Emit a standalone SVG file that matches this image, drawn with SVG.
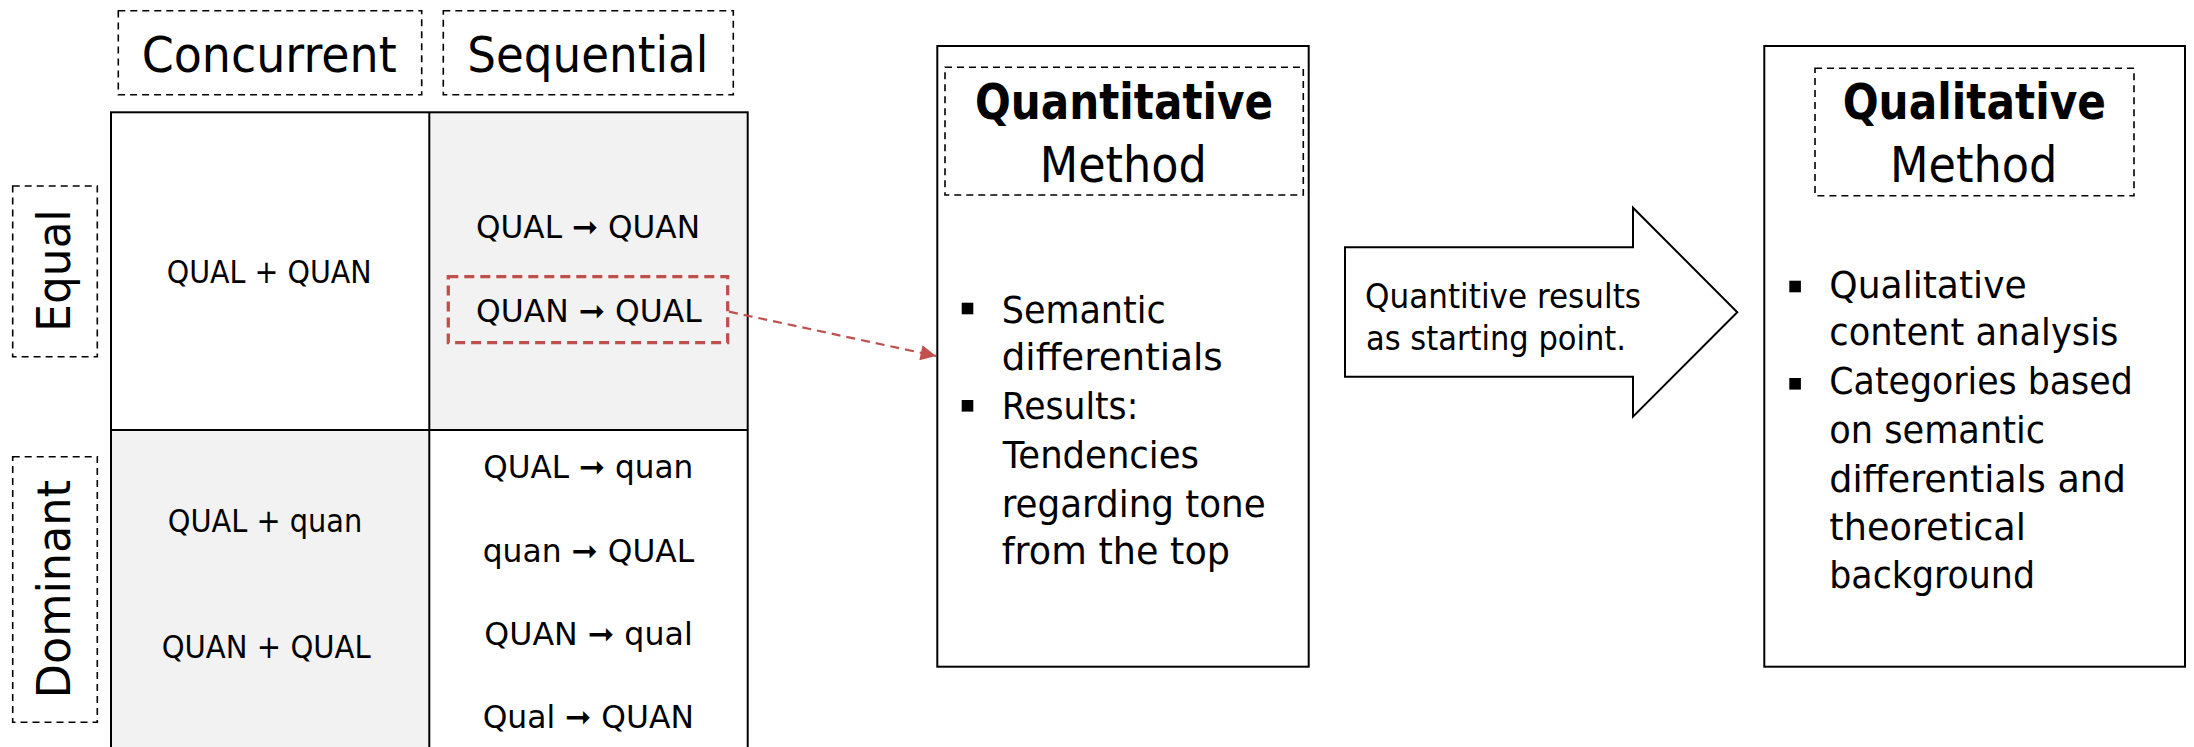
<svg xmlns="http://www.w3.org/2000/svg" width="2194" height="747" viewBox="0 0 2194 747">
<style>
text{font-family:"DejaVu Sans","Liberation Sans",sans-serif;fill:#000}
.hdr{font-size:50px;text-anchor:middle}
.side{font-size:46px;text-anchor:middle}
.cell{font-size:32px;text-anchor:middle}
.ttl{font-size:50px;font-weight:bold;text-anchor:middle}
.mth{font-size:50px;text-anchor:middle}
.bul{font-size:38px}
.arw{font-size:34px}
.dash{fill:none;stroke:#000;stroke-width:1.6;stroke-dasharray:7,5}
.box{fill:#fff;stroke:#000;stroke-width:2}
.grid{stroke:#000;stroke-width:2}
</style>
<defs>
<marker id="ah" viewBox="0 0 10 10" refX="10" refY="5" markerWidth="8" markerHeight="7" markerUnits="strokeWidth" orient="auto"><path d="M0,0 L10,5 L0,10 z" fill="#c0504d"/></marker>
</defs>
<rect width="2194" height="747" fill="#fff"/>
<g id="header-concurrent"><rect class="dash" x="118.3" y="10.7" width="303.4" height="84"/><text class="hdr" x="269.2" y="71.7" textLength="255" lengthAdjust="spacingAndGlyphs">Concurrent</text></g>
<g id="header-sequential"><rect class="dash" x="443.3" y="10.7" width="290" height="84"/><text class="hdr" x="587.8" y="71.7" textLength="241" lengthAdjust="spacingAndGlyphs">Sequential</text></g>
<g id="side-equal"><rect class="dash" x="12.7" y="186" width="84.6" height="170.7"/><text class="side" transform="translate(70,270.5) rotate(-90)" x="0" y="0" textLength="122.3" lengthAdjust="spacingAndGlyphs">Equal</text></g>
<g id="side-dominant"><rect class="dash" x="12.7" y="456.7" width="84.6" height="265.6"/><text class="side" transform="translate(70,589.2) rotate(-90)" x="0" y="0" textLength="218.3" lengthAdjust="spacingAndGlyphs">Dominant</text></g>
<g id="table">
<rect x="111" y="112.3" width="318.3" height="317.7" fill="#fff"/>
<rect x="429.3" y="112.3" width="318.4" height="317.7" fill="#f2f2f2"/>
<rect x="111" y="430" width="318.3" height="330" fill="#f2f2f2"/>
<rect x="429.3" y="430" width="318.4" height="330" fill="#fff"/>
<rect x="111" y="112.3" width="636.7" height="648" fill="none" class="grid"/>
<line class="grid" x1="429.3" y1="112.3" x2="429.3" y2="760"/>
<line class="grid" x1="111" y1="430" x2="747.7" y2="430"/>
</g>
<g id="cell-equal-concurrent"><text class="cell" x="269.2" y="283.3" textLength="205" lengthAdjust="spacingAndGlyphs">QUAL + QUAN</text></g>
<g id="cell-equal-sequential">
<text class="cell" x="588" y="238.3" textLength="224" lengthAdjust="spacingAndGlyphs">QUAL ➞ QUAN</text>
<text class="cell" x="588.8" y="321.7" textLength="225.7" lengthAdjust="spacingAndGlyphs">QUAN ➞ QUAL</text>
</g>
<g id="highlight"><rect x="448.3" y="276.7" width="279.4" height="66" fill="none" stroke="#c0504d" stroke-width="3.3" stroke-dasharray="10,6"/></g>
<g id="cell-dominant-concurrent">
<text class="cell" x="265" y="531.7" textLength="194.6" lengthAdjust="spacingAndGlyphs">QUAL + quan</text>
<text class="cell" x="266.2" y="658.3" textLength="209" lengthAdjust="spacingAndGlyphs">QUAN + QUAL</text>
</g>
<g id="cell-dominant-sequential">
<text class="cell" x="588.3" y="478.3" textLength="210" lengthAdjust="spacingAndGlyphs">QUAL ➞ quan</text>
<text class="cell" x="588.5" y="561.7" textLength="211.6" lengthAdjust="spacingAndGlyphs">quan ➞ QUAL</text>
<text class="cell" x="588.5" y="645" textLength="208.4" lengthAdjust="spacingAndGlyphs">QUAN ➞ qual</text>
<text class="cell" x="588.3" y="728.3" textLength="211.3" lengthAdjust="spacingAndGlyphs">Qual ➞ QUAN</text>
</g>
<g id="quantitative-method">
<rect class="box" x="937.3" y="46" width="371.4" height="620.7"/>
<rect class="dash" x="945" y="67.3" width="358.3" height="127.7"/>
<text class="ttl" x="1124" y="119.3" textLength="298" lengthAdjust="spacingAndGlyphs">Quantitative</text>
<text class="mth" x="1123.3" y="181.7" textLength="167" lengthAdjust="spacingAndGlyphs">Method</text>
<rect x="961.7" y="302.7" width="11.6" height="11.6"/>
<rect x="961.7" y="400" width="11.6" height="11.6"/>
<text class="bul" x="1001.7" y="323.3" textLength="164" lengthAdjust="spacingAndGlyphs">Semantic</text>
<text class="bul" x="1001.7" y="370" textLength="221" lengthAdjust="spacingAndGlyphs">differentials</text>
<text class="bul" x="1001.7" y="419.3" textLength="136.6" lengthAdjust="spacingAndGlyphs">Results:</text>
<text class="bul" x="1002.7" y="468.3" textLength="196.3" lengthAdjust="spacingAndGlyphs">Tendencies</text>
<text class="bul" x="1001.7" y="516.7" textLength="264" lengthAdjust="spacingAndGlyphs">regarding tone</text>
<text class="bul" x="1001.7" y="564.3" textLength="228.3" lengthAdjust="spacingAndGlyphs">from the top</text>
</g>
<g id="transition-arrow">
<path d="M1345,247.3 H1633 V207.7 L1737.3,312.3 L1633,416.7 V376.7 H1345 Z" fill="#fff" stroke="#000" stroke-width="2"/>
<text class="arw" x="1365" y="308.3" textLength="276" lengthAdjust="spacingAndGlyphs">Quantitive results</text>
<text class="arw" x="1366" y="350" textLength="260" lengthAdjust="spacingAndGlyphs">as starting point.</text>
</g>
<g id="qualitative-method">
<rect class="box" x="1764.3" y="46" width="420.7" height="620.7"/>
<rect class="dash" x="1815" y="68.3" width="319" height="127.4"/>
<text class="ttl" x="1974.3" y="119.3" textLength="263.3" lengthAdjust="spacingAndGlyphs">Qualitative</text>
<text class="mth" x="1973.7" y="181.7" textLength="167.3" lengthAdjust="spacingAndGlyphs">Method</text>
<rect x="1789.3" y="280.7" width="11.6" height="11.6"/>
<rect x="1789.3" y="378" width="11.6" height="11.6"/>
<text class="bul" x="1829.3" y="298.3" textLength="197.4" lengthAdjust="spacingAndGlyphs">Qualitative</text>
<text class="bul" x="1829.3" y="345" textLength="289" lengthAdjust="spacingAndGlyphs">content analysis</text>
<text class="bul" x="1829.3" y="394" textLength="303.4" lengthAdjust="spacingAndGlyphs">Categories based</text>
<text class="bul" x="1829.3" y="443.3" textLength="215.7" lengthAdjust="spacingAndGlyphs">on semantic</text>
<text class="bul" x="1829.3" y="491.7" textLength="296.7" lengthAdjust="spacingAndGlyphs">differentials and</text>
<text class="bul" x="1829.3" y="540" textLength="196.7" lengthAdjust="spacingAndGlyphs">theoretical</text>
<text class="bul" x="1829.3" y="588.3" textLength="205.7" lengthAdjust="spacingAndGlyphs">background</text>
</g>
<g id="connectors">
<line x1="729" y1="311.7" x2="936" y2="356" stroke="#c0504d" stroke-width="2.2" stroke-dasharray="9,6" marker-end="url(#ah)"/>
</g>
</svg>
